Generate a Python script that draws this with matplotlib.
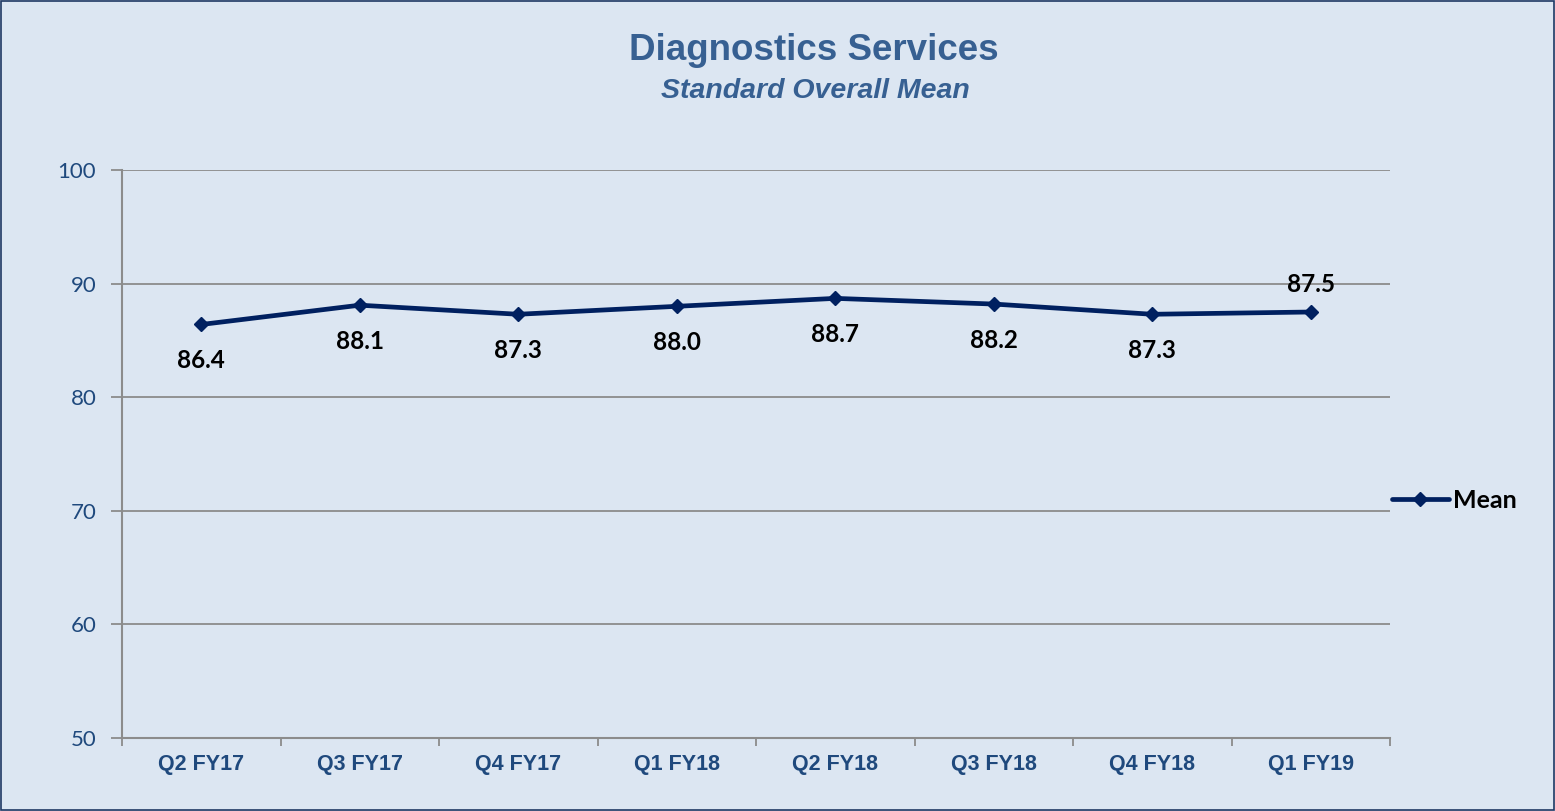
import matplotlib.pyplot as plt
from matplotlib.patches import Rectangle

# data
quarters = ['Q2 FY17', 'Q3 FY17', 'Q4 FY17', 'Q1 FY18', 'Q2 FY18', 'Q3 FY18', 'Q4 FY18', 'Q1 FY19']
mean = [86.4, 88.1, 87.3, 88.0, 88.7, 88.2, 87.3, 87.5]
label_above = [False, False, False, False, False, False, False, True]

bg = '#DCE6F2'
line_col = '#002060'
title_col = '#376092'
grid_col = '#8C8C8C'

fig = plt.figure(figsize=(15.55, 8.11), dpi=100, facecolor=bg)
fig.patches.append(Rectangle((0.0006, 0.001), 0.9988, 0.998, transform=fig.transFigure,
                             fill=False, edgecolor='#1F3864', linewidth=1.2))

ax = fig.add_axes([122 / 1555, 1 - 738 / 811, (1390 - 122) / 1555, (738 - 170) / 811])
ax.set_facecolor(bg)

x = list(range(len(quarters)))
ax.plot(x, mean, color=line_col, linewidth=3.4, marker='D', markersize=7,
        label='Mean', solid_capstyle='round', zorder=3)

for xi, v, up in zip(x, mean, label_above):
    off = 20 if up else -26
    ax.annotate(f'{v:.1f}', (xi, v), xytext=(0, off), textcoords='offset points',
                ha='center', va='center', fontsize=17.5, fontweight='bold',
                family='Lato', color='black')

ax.set_xlim(-0.5, len(quarters) - 0.5)
ax.set_ylim(50, 100)
ax.set_yticks([50, 60, 70, 80, 90, 100])
ax.yaxis.grid(True, color=grid_col, linewidth=1.3)
ax.set_axisbelow(True)

ax.set_xticks(x)
ax.set_xticklabels(quarters, fontsize=15.5, fontweight='bold', color='#1F497D',
                   family='Liberation Sans')
ax.tick_params(axis='x', length=0, pad=11.5)
ax.set_xticks([i + 0.5 for i in range(-1, len(quarters))], minor=True)
ax.tick_params(axis='x', which='minor', length=6, width=1.3, color=grid_col, direction='out')

ax.tick_params(axis='y', length=8, width=1.3, color=grid_col, labelsize=16,
               labelcolor='#1F497D', pad=10.5)
for t in ax.get_yticklabels():
    t.set_family('Lato')

for s in ['top', 'right']:
    ax.spines[s].set_visible(False)
for s in ['left', 'bottom']:
    ax.spines[s].set_color(grid_col)
    ax.spines[s].set_linewidth(1.5)

fig.text(814 / 1555, 1 - 50 / 811, 'Diagnostics Services', ha='center', va='center',
         fontsize=26.5, fontweight='bold', color=title_col, family='Liberation Sans')
fig.text(815 / 1555, 1 - 91 / 811, 'Standard Overall Mean', ha='center', va='center',
         fontsize=20.5, fontweight='bold', style='italic', color=title_col, family='Liberation Sans')

leg = ax.legend(loc='center left', bbox_to_anchor=(1377 / 1555 - 0.005, 1 - 500 / 811),
                bbox_transform=fig.transFigure, frameon=False, handlelength=2.3,
                handletextpad=0.15, prop={'family': 'Lato', 'weight': 'bold', 'size': 18})

fig.savefig('out.png', dpi=100, facecolor=bg)
